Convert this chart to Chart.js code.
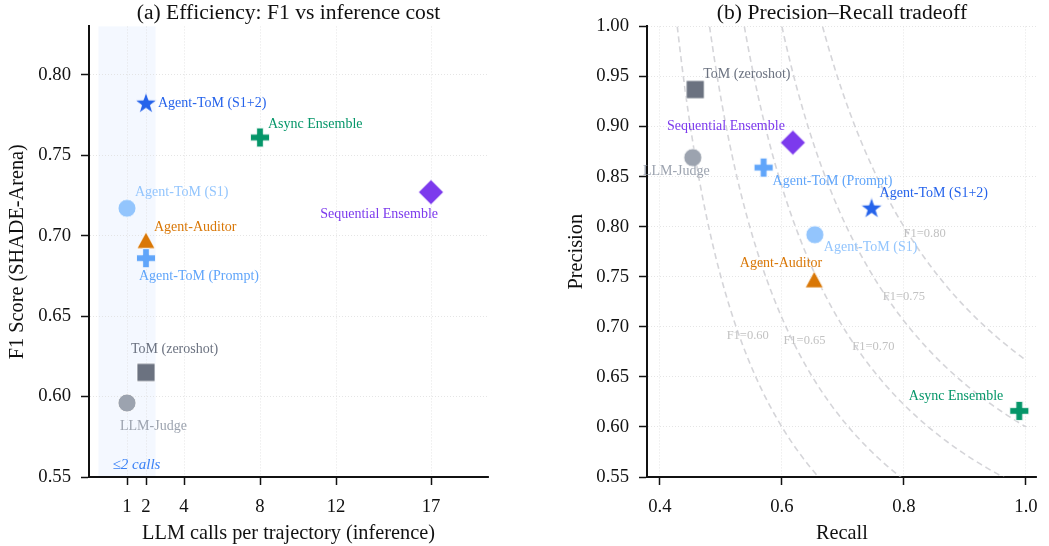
<!DOCTYPE html>
<html>
<head>
<meta charset="utf-8">
<script src="https://cdn.jsdelivr.net/npm/chart.js@4.4.1/dist/chart.umd.min.js"></script>
<style>
  html, body { margin: 0; padding: 0; background: #fff; }
  #wrap { position: relative; width: 1049px; height: 546px; }
  #chartA { position: absolute; left: 0; top: 0; }
  #chartB { position: absolute; left: 524px; top: 0; }
</style>
</head>
<body>
<div id="wrap">
  <canvas id="chartA" width="524" height="546"></canvas>
  <canvas id="chartB" width="525" height="546"></canvas>
</div>
<script>
// Methods (same order in both panels)
const methods = ['Agent-ToM (S1+2)', 'Async Ensemble', 'Sequential Ensemble', 'Agent-ToM (S1)',
                 'Agent-Auditor', 'Agent-ToM (Prompt)', 'ToM (zeroshot)', 'LLM-Judge'];
const methodColors = ['#2563eb', '#059669', '#7c3aed', '#93c5fd', '#d97706', '#60a5fa', '#6b7280', '#9ca3af'];
const markerShapes = ['star', 'plus', 'diamond', 'circle', 'triangle', 'plus', 'square', 'circle'];

// (a) efficiency
const llmCalls = [2, 8, 17, 1, 2, 2, 2, 1];
const f1Scores = [0.782, 0.761, 0.727, 0.717, 0.697, 0.686, 0.615, 0.596];
const callTicks = [1, 2, 4, 8, 12, 17];
const f1Ticks = [0.55, 0.60, 0.65, 0.70, 0.75, 0.80];
const cheapSpan = [-0.5, 2.5];

// (b) precision / recall
const recallVals = [0.747, 0.989, 0.618, 0.654, 0.653, 0.570, 0.458, 0.454];
const precisionVals = [0.818, 0.616, 0.884, 0.792, 0.747, 0.859, 0.937, 0.869];
const recallTicks = [0.4, 0.6, 0.8, 1.0];
const precisionTicks = [0.55, 0.60, 0.65, 0.70, 0.75, 0.80, 0.85, 0.90, 0.95, 1.00];
const isoF1Levels = [0.60, 0.65, 0.70, 0.75, 0.80];

// label placement (pixel offsets from marker, text align)
const labelOffsetsA = [[12, 0, 'left'], [8, -13, 'left'], [7, 22, 'right'], [8, -16, 'left'],
                       [8, -13, 'left'], [-7, 18, 'left'], [-15, -23, 'left'], [-7, 23, 'left']];
const labelOffsetsB = [[8, -15, 'left'], [-16, -15, 'right'], [-8, -16, 'right'], [9, 13, 'left'],
                       [8, -16, 'right'], [9, 14, 'left'], [8, -15, 'left'], [17, 14, 'right']];
const isoLabelPos = [[0.544, 0.691], [0.637, 0.686], [0.750, 0.680], [0.800, 0.730], [0.834, 0.793]];

const SERIF = '"Liberation Serif", "DejaVu Serif", serif';
const INK = '#111';

function makeMarker(shape, color) {
    const s = 30;
    const c = document.createElement('canvas');
    c.width = s; c.height = s;
    const ctx = c.getContext('2d');
    ctx.translate(s / 2, s / 2);
    ctx.beginPath();
    if (shape === 'circle') {
        ctx.arc(0, 0, 9, 0, Math.PI * 2);
    } else if (shape === 'square') {
        ctx.rect(-9, -9, 18, 18);
    } else if (shape === 'diamond') {
        ctx.moveTo(0, -12.5); ctx.lineTo(12.5, 0); ctx.lineTo(0, 12.5); ctx.lineTo(-12.5, 0); ctx.closePath();
    } else if (shape === 'triangle') {
        ctx.moveTo(0, -8.5); ctx.lineTo(9, 8); ctx.lineTo(-9, 8); ctx.closePath();
    } else if (shape === 'star') {
        for (let i = 0; i < 10; i++) {
            const r = i % 2 ? 4.6 : 11.5;
            const a = -Math.PI / 2 + i * Math.PI / 5;
            ctx.lineTo(r * Math.cos(a), r * Math.sin(a));
        }
        ctx.closePath();
    } else if (shape === 'plus') {
        const a = 9.5, b = 3.3;
        const pts = [[-b, -a], [b, -a], [b, -b], [a, -b], [a, b], [b, b], [b, a], [-b, a], [-b, b], [-a, b], [-a, -b], [-b, -b]];
        pts.forEach((p, i) => i ? ctx.lineTo(p[0], p[1]) : ctx.moveTo(p[0], p[1]));
        ctx.closePath();
    }
    ctx.fillStyle = color;
    ctx.fill();
    ctx.lineWidth = 0.8;
    ctx.strokeStyle = '#fff';
    ctx.stroke();
    return c;
}
const markers = markerShapes.map((s, i) => makeMarker(s, methodColors[i]));

function makeLabelPlugin(offsets) {
    return {
        id: 'pointLabels',
        afterDatasetsDraw(chart) {
            const meta = chart.getDatasetMeta(0);
            const ctx = chart.ctx;
            ctx.save();
            ctx.font = '14px ' + SERIF;
            ctx.textBaseline = 'middle';
            meta.data.forEach((pt, i) => {
                const o = offsets[i];
                ctx.fillStyle = methodColors[i];
                ctx.textAlign = o[2];
                ctx.fillText(methods[i], pt.x + o[0], pt.y + o[1]);
            });
            ctx.restore();
        }
    };
}

const cheapSpanPlugin = {
    id: 'cheapSpan',
    beforeDraw(chart) {
        const { ctx, chartArea, scales } = chart;
        const x0 = scales.x.getPixelForValue(cheapSpan[0]);
        const x1 = scales.x.getPixelForValue(cheapSpan[1]);
        ctx.save();
        ctx.fillStyle = 'rgba(59,130,246,0.055)';
        ctx.fillRect(x0, chartArea.top, x1 - x0, chartArea.bottom - chartArea.top);
        ctx.restore();
    },
    beforeDatasetsDraw(chart) {
        const { ctx, scales } = chart;
        ctx.save();
        ctx.font = 'italic 15px ' + SERIF;
        ctx.fillStyle = '#3b82f6';
        ctx.textAlign = 'center';
        ctx.textBaseline = 'middle';
        ctx.fillText('\u22642 calls', scales.x.getPixelForValue(1.5), scales.y.getPixelForValue(0.5575));
        ctx.restore();
    }
};

const isoLabelPlugin = {
    id: 'isoLabels',
    beforeDatasetsDraw(chart) {
        const { ctx, scales } = chart;
        ctx.save();
        ctx.font = '12.5px ' + SERIF;
        ctx.fillStyle = '#c2c2c2';
        ctx.textAlign = 'center';
        ctx.textBaseline = 'middle';
        isoF1Levels.forEach((f, i) => {
            ctx.fillText('F1=' + f.toFixed(2), scales.x.getPixelForValue(isoLabelPos[i][0]),
                         scales.y.getPixelForValue(isoLabelPos[i][1]));
        });
        ctx.restore();
    }
};

// analytic iso-F1 contour: precision = F*R / (2R - F)
function isoCurve(f) {
    const pts = [];
    const r0 = f / (2 - f);
    for (let i = 0; i <= 80; i++) {
        const r = r0 + (1 - r0) * i / 80;
        pts.push({ x: r, y: f * r / (2 * r - f) });
    }
    return pts;
}

function axis(opts) {
    return {
        type: 'linear',
        min: opts.min,
        max: opts.max,
        afterBuildTicks: s => { s.ticks = opts.ticks.map(v => ({ value: v })); },
        afterFit: s => { if (opts.width) s.width = opts.width; if (opts.height) s.height = opts.height; },
        ticks: {
            color: INK, font: { family: SERIF, size: 18.7 }, padding: opts.tickPad,
            autoSkip: false, maxRotation: 0, callback: opts.fmt
        },
        grid: {
            color: '#dedede', lineWidth: 0.8, tickColor: INK, tickWidth: 1.5,
            tickLength: 8, tickBorderDash: []
        },
        border: { display: true, color: INK, width: 2, dash: [1, 2] },
        title: {
            display: true, text: opts.title, color: INK,
            font: { family: SERIF, size: 20.3 }, padding: opts.titlePad
        }
    };
}

function titleOpts(text) {
    return {
        display: true, text: text, fullSize: false, color: INK,
        font: { family: SERIF, size: 21.6, weight: 'normal' },
        padding: { top: 0, bottom: 0.5 }
    };
}

new Chart(document.getElementById('chartA'), {
    type: 'scatter',
    data: {
        datasets: [{
            data: llmCalls.map((x, i) => ({ x: x, y: f1Scores[i] })),
            pointStyle: markers,
            pointRadius: 10,
            pointHoverRadius: 10
        }]
    },
    options: {
        responsive: false,
        animation: false,
        layout: { padding: { left: 0, right: 36, top: 0, bottom: 0 } },
        plugins: {
            legend: { display: false },
            tooltip: { enabled: false },
            title: titleOpts('(a) Efficiency: F1 vs inference cost')
        },
        scales: {
            x: axis({ min: -1, max: 20, ticks: callTicks, height: 69, tickPad: 11,
                      fmt: v => String(v), title: 'LLM calls per trajectory (inference)',
                      titlePad: { top: 0, bottom: 0 } }),
            y: axis({ min: 0.55, max: 0.83, ticks: f1Ticks, width: 89, tickPad: 10,
                      fmt: v => v.toFixed(2), title: 'F1 Score (SHADE-Arena)',
                      titlePad: { top: 5, bottom: 0 } })
        }
    },
    plugins: [cheapSpanPlugin, makeLabelPlugin(labelOffsetsA)]
});

const isoDatasets = isoF1Levels.map(f => ({
    type: 'line',
    data: isoCurve(f),
    borderColor: 'rgba(185,185,192,0.6)',
    borderWidth: 1.6,
    borderDash: [6, 4],
    pointRadius: 0,
    fill: false,
    tension: 0,
    order: 2
}));

new Chart(document.getElementById('chartB'), {
    type: 'scatter',
    data: {
        datasets: [{
            data: recallVals.map((r, i) => ({ x: r, y: precisionVals[i] })),
            pointStyle: markers,
            pointRadius: 10,
            pointHoverRadius: 10,
            order: 0
        }].concat(isoDatasets)
    },
    options: {
        responsive: false,
        animation: false,
        layout: { padding: { left: 0, right: 3, top: 0, bottom: 0 } },
        plugins: {
            legend: { display: false },
            tooltip: { enabled: false },
            title: titleOpts('(b) Precision\u2013Recall tradeoff')
        },
        scales: {
            x: axis({ min: 0.379, max: 1.018, ticks: recallTicks, height: 69, tickPad: 11,
                      fmt: v => v.toFixed(1), title: 'Recall',
                      titlePad: { top: 0, bottom: 0 } }),
            y: axis({ min: 0.55, max: 1.00, ticks: precisionTicks, width: 123, tickPad: 10,
                      fmt: v => v.toFixed(2), title: 'Precision',
                      titlePad: { top: 40, bottom: 0 } })
        }
    },
    plugins: [isoLabelPlugin, makeLabelPlugin(labelOffsetsB)]
});
</script>
</body>
</html>
